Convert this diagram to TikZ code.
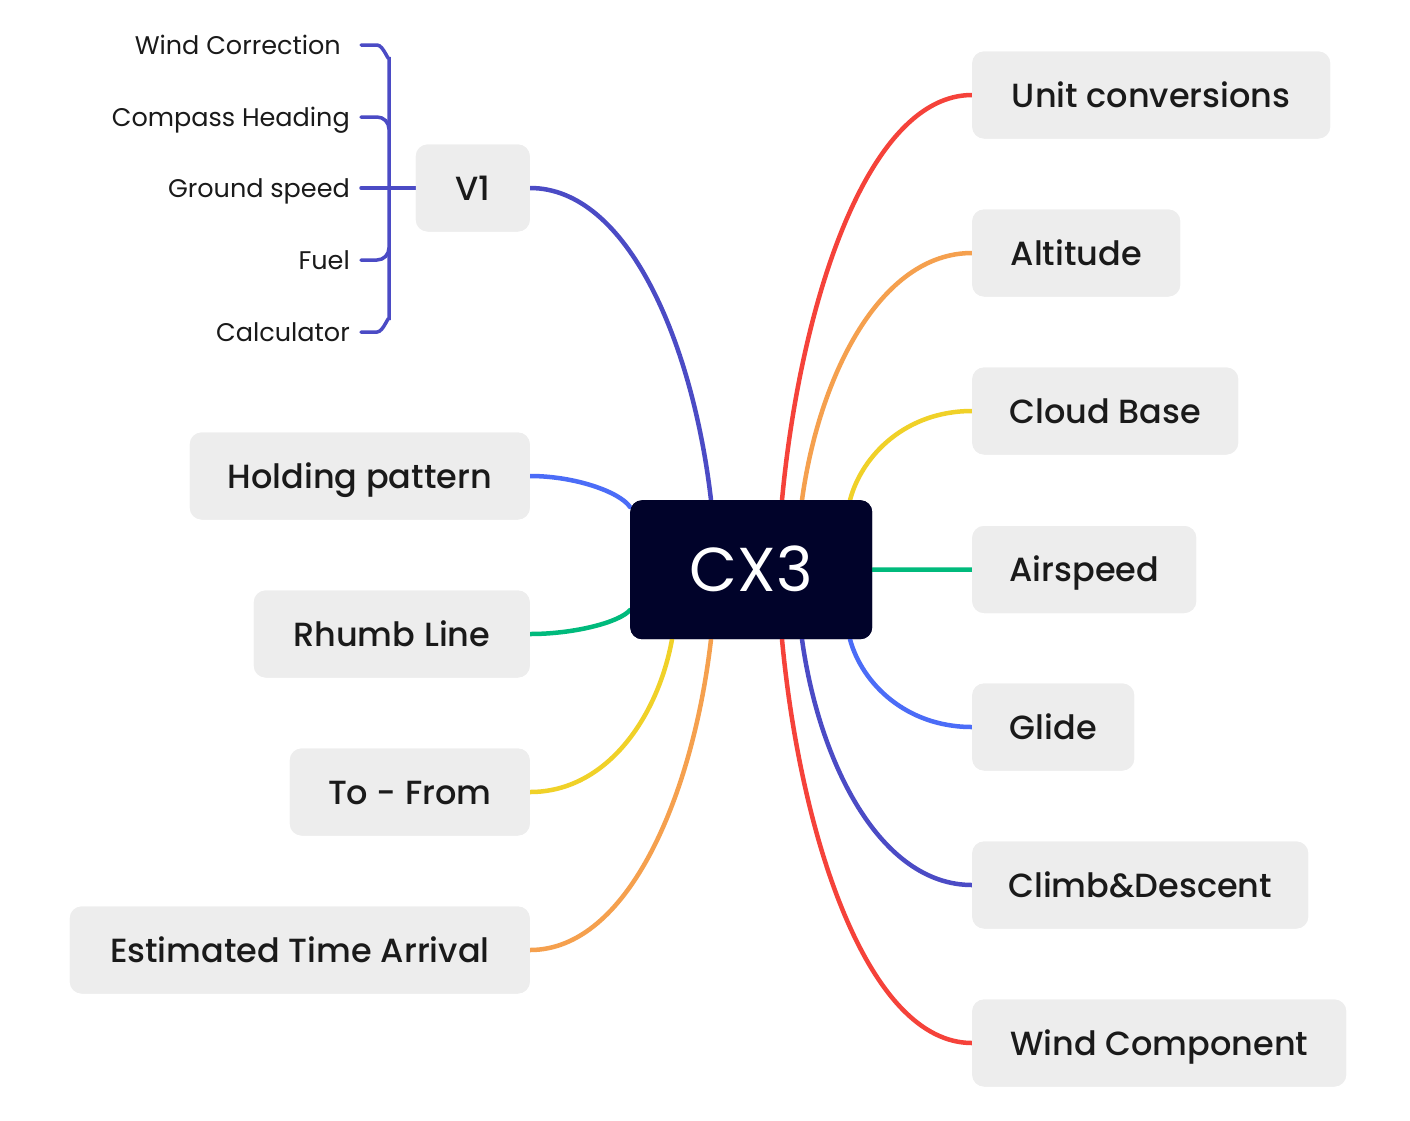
\documentclass[tikz,border=0pt]{standalone}
\usepackage{fontspec}
\setmainfont{Poppins}[UprightFont=* Medium]
\newfontfamily\cxfont{Poppins}
\definecolor{cred}{HTML}{F5423A}
\definecolor{corange}{HTML}{F5A04E}
\definecolor{cyellow}{HTML}{F0D128}
\definecolor{cgreen}{HTML}{00BA7C}
\definecolor{cblue}{HTML}{4B6CF7}
\definecolor{cindigo}{HTML}{4B4BC5}
\definecolor{cnavy}{HTML}{01032A}
\definecolor{boxfill}{HTML}{EDEDED}
\definecolor{txt}{HTML}{1A1A1A}
\begin{document}
\begin{tikzpicture}[x=1pt,y=-1pt,
  topic/.style={fill=boxfill,rounded corners=12pt,minimum height=87pt,inner xsep=0pt,inner ysep=0pt,text height=24pt,text depth=0pt,text=txt,font=\fontsize{33.5}{36}\selectfont},
  rtopic/.style={topic,anchor=west},
  ltopic/.style={topic,anchor=east},
  center/.style={fill=cnavy,rounded corners=12pt,minimum width=242pt,minimum height=139pt,anchor=north west,inner sep=0pt,text height=43pt,text depth=0pt,text=white,font=\cxfont\fontsize{62}{64}\selectfont},
  sub/.style={anchor=east,inner sep=0pt,text height=18pt,text depth=0pt,text=txt,font=\cxfont\fontsize{25.5}{28}\selectfont},
  link/.style={line width=4.5pt,line cap=round},
  sublink/.style={line width=3.5pt,color=cindigo,line cap=round}]
\useasboundingbox (0,0) rectangle (1410,1120);
\fill[white] (0,0) rectangle (1410,1120);

\node[center] (c) at (630,500) {CX3};

\node[rtopic,minimum width=358pt] (unit) at (972,95) {Unit conversions};
\node[rtopic,minimum width=208pt] (alt) at (972,253) {Altitude};
\node[rtopic,minimum width=266pt] (cloud) at (972,411) {Cloud Base};
\node[rtopic,minimum width=224pt] (air) at (972,569.5) {Airspeed};
\node[rtopic,minimum width=162pt] (glide) at (972,727) {Glide};
\node[rtopic,minimum width=336pt] (climb) at (972,885) {Climb\&Descent};
\node[rtopic,minimum width=374pt] (wind) at (972,1043) {Wind Component};

\node[ltopic,minimum width=114pt] (v1) at (530,188) {V1};
\node[ltopic,minimum width=340pt] (hold) at (530,476) {Holding pattern};
\node[ltopic,minimum width=276pt] (rhumb) at (530,634) {Rhumb Line};
\node[ltopic,minimum width=240pt] (tofrom) at (530,792) {To - From};
\node[ltopic,minimum width=460pt] (eta) at (530,950) {Estimated Time Arrival};

\node[sub] (wc) at (341,45) {Wind Correction};
\node[sub] (ch) at (350,117) {Compass Heading};
\node[sub] (gs) at (350,188) {Ground speed};
\node[sub] (fu) at (350,260) {Fuel};
\node[sub] (ca) at (350,332) {Calculator};

\coordinate (t1) at ([xshift=81pt]c.north west);
\coordinate (t2) at ([xshift=152pt]c.north west);
\coordinate (t3) at ([xshift=172pt]c.north west);
\coordinate (t4) at ([xshift=220pt]c.north west);
\coordinate (b1) at ([xshift=42pt]c.south west);
\coordinate (b2) at ([xshift=81pt]c.south west);
\coordinate (b3) at ([xshift=152pt]c.south west);
\coordinate (b4) at ([xshift=172pt]c.south west);
\coordinate (b5) at ([xshift=220pt]c.south west);
\coordinate (l1) at ([yshift=-7pt]c.north west);
\coordinate (l2) at ([yshift=-110pt]c.north west);

% right branches
\draw[link,cred] (t2) .. controls +(19,-202) and +(-103,0) .. (unit.west);
\draw[link,corange] (t3) .. controls +(17,-124) and +(-92,0) .. (alt.west);
\draw[link,cyellow] (t4) .. controls +(12,-45) and +(-66,0) .. (cloud.west);
\draw[link,cgreen] (c.east) -- (air.west);
\draw[link,cblue] (b5) .. controls +(12,44) and +(-66,0) .. (glide.west);
\draw[link,cindigo] (b4) .. controls +(17,123) and +(-92,0) .. (climb.west);
\draw[link,cred] (b3) .. controls +(19,202) and +(-103,0) .. (wind.west);
% left branches
\draw[link,cindigo] (t1) .. controls +(-18,-156) and +(98,0) .. (v1.east);
\draw[link,cblue] (l1) .. controls +(-10,-15) and +(45,0) .. (hold.east);
\draw[link,cgreen] (l2) .. controls +(-10,12) and +(45,0) .. (rhumb.east);
\draw[link,cyellow] (b1) .. controls +(-14,77) and +(77,0) .. (tofrom.east);
\draw[link,corange] (b2) .. controls +(-18,156) and +(98,0) .. (eta.east);

% V1 sub-branches
\coordinate (wcs) at ([xshift=20pt]wc.east);
\coordinate (chs) at ([xshift=11pt]ch.east);
\coordinate (gss) at ([xshift=11pt]gs.east);
\coordinate (fus) at ([xshift=11pt]fu.east);
\coordinate (cas) at ([xshift=11pt]ca.east);
\draw[sublink] (wcs) -- ++(16,0) to[out=0,in=-90] ++(12,12) -- ++(0,263) to[out=90,in=0] ++(-12,12) -- (cas);
\draw[sublink] (chs) -- ++(16,0) to[out=0,in=90] ++(12,12);
\draw[sublink] (fus) -- ++(16,0) to[out=0,in=-90] ++(12,-12);
\draw[sublink] (gss) -- (v1.west);

% nodes again, on top of the connectors
\node[center] at (630,500) {CX3};
\node[rtopic,minimum width=358pt] at (972,95) {Unit conversions};
\node[rtopic,minimum width=208pt] at (972,253) {Altitude};
\node[rtopic,minimum width=266pt] at (972,411) {Cloud Base};
\node[rtopic,minimum width=224pt] at (972,569.5) {Airspeed};
\node[rtopic,minimum width=162pt] at (972,727) {Glide};
\node[rtopic,minimum width=336pt] at (972,885) {Climb\&Descent};
\node[rtopic,minimum width=374pt] at (972,1043) {Wind Component};
\node[ltopic,minimum width=114pt] at (530,188) {V1};
\node[ltopic,minimum width=340pt] at (530,476) {Holding pattern};
\node[ltopic,minimum width=276pt] at (530,634) {Rhumb Line};
\node[ltopic,minimum width=240pt] at (530,792) {To - From};
\node[ltopic,minimum width=460pt] at (530,950) {Estimated Time Arrival};
\end{tikzpicture}
\end{document}
